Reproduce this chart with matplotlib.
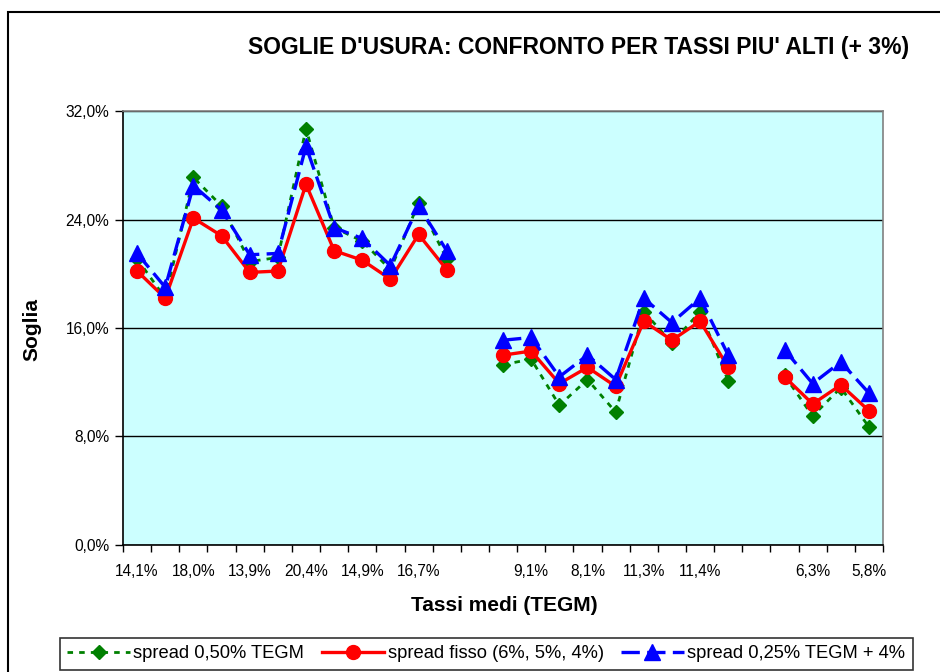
import numpy as np
import matplotlib
matplotlib.use('Agg')
import matplotlib.pyplot as plt
from matplotlib.patches import Rectangle

plt.rcParams['font.family'] = ['Liberation Sans', 'DejaVu Sans']

nan = np.nan
# 27 categories (TEGM); blank categories split the three groups
labels = ['14,1%', '', '18,0%', '', '13,9%', '', '20,4%', '', '14,9%', '', '16,7%', '',
          '', '', '9,1%', '', '8,1%', '', '11,3%', '', '11,4%', '', '', '', '6,3%', '', '5,8%']

spread_050 = [21.1, 18.2, 27.1, 25.0, 20.9, 21.2, 30.7, 23.4, 22.4, 20.3, 25.2, 21.1,
              nan, 13.3, 13.7, 10.3, 12.2, 9.8, 17.2, 14.9, 17.2, 12.1,
              nan, 12.5, 9.5, 11.6, 8.7]
spread_fisso = [20.2, 18.2, 24.1, 22.8, 20.1, 20.2, 26.6, 21.7, 21.0, 19.6, 22.9, 20.3,
                nan, 14.0, 14.3, 11.9, 13.1, 11.7, 16.5, 15.1, 16.5, 13.1,
                nan, 12.4, 10.4, 11.8, 9.9]
spread_025 = [21.5, 19.0, 26.5, 24.7, 21.4, 21.5, 29.4, 23.4, 22.6, 20.6, 25.0, 21.7,
              nan, 15.1, 15.3, 12.4, 14.0, 12.2, 18.2, 16.4, 18.2, 14.0,
              nan, 14.4, 11.9, 13.5, 11.2]

series_names = ['spread 0,50% TEGM', 'spread fisso (6%, 5%, 4%)', 'spread 0,25% TEGM + 4%']

x = np.arange(1, len(labels) + 1)

fig = plt.figure(figsize=(9.4, 6.72), dpi=100)
ax = fig.add_axes([0.1309, 0.189, 0.8085, 0.6458])
ax.set_facecolor('#CCFFFF')

ax.plot(x, spread_050, color='#008000', lw=2.0, linestyle=(0, (2, 2.2)),
        marker='D', markersize=7, label=series_names[0], zorder=3)
ax.plot(x, spread_fisso, color='#FF0000', lw=2.4, linestyle='-',
        marker='o', markersize=10, label=series_names[1], zorder=4)
ax.plot(x, spread_025, color='#0000FF', lw=2.4, linestyle=(0, (5.5, 2.2)),
        marker='^', markersize=11, label=series_names[2], zorder=5)

ax.set_ylim(0, 32)
ax.set_yticks([0, 8, 16, 24, 32])
ax.set_yticklabels([('%.1f%%' % v).replace('.', ',') for v in [0, 8, 16, 24, 32]])
ax.yaxis.grid(True, color='black', lw=1.0)
ax.set_axisbelow(True)

ax.set_xlim(0.5, len(labels) + 0.5)
ax.set_xticks(np.arange(0.5, len(labels) + 1, 1.0))
ax.set_xticklabels([])
ax.set_xticks(x, minor=True)
ax.set_xticklabels(labels, minor=True)
ax.tick_params(axis='x', which='major', direction='out', length=5, width=1, color='black')
ax.tick_params(axis='x', which='minor', length=0, pad=14, labelsize=11.2)
ax.tick_params(axis='y', direction='out', length=6, width=1, labelsize=11.2, pad=4)

for side in ['top', 'right']:
    ax.spines[side].set_color('#808080')
    ax.spines[side].set_linewidth(1.2)
for side in ['left', 'bottom']:
    ax.spines[side].set_color('black')
    ax.spines[side].set_linewidth(1.2)

fig.text(0.615, 0.9286, "SOGLIE D'USURA: CONFRONTO PER TASSI PIU' ALTI (+ 3%)",
         ha='center', va='center', fontsize=16.5, fontweight='bold')
fig.text(0.034, 0.509, 'Soglia', rotation=90, ha='center', va='center',
         fontsize=15, fontweight='bold')
fig.text(0.536, 0.0997, 'Tassi medi (TEGM)', ha='center', va='center',
         fontsize=15, fontweight='bold')

leg = fig.legend(loc='upper left', bbox_to_anchor=(0.064, 0.0506), ncol=3,
                 fontsize=13.2, frameon=True, fancybox=False, edgecolor='black',
                 handlelength=3.4, handletextpad=0.2, columnspacing=0.95,
                 borderpad=0.4, borderaxespad=0)
leg.get_frame().set_linewidth(1.2)

fig.patches.append(Rectangle((0.0085, -0.2), 1.2, 1.182, transform=fig.transFigure,
                             fill=False, edgecolor='black', lw=1.5))

fig.savefig('out.png', dpi=100)
